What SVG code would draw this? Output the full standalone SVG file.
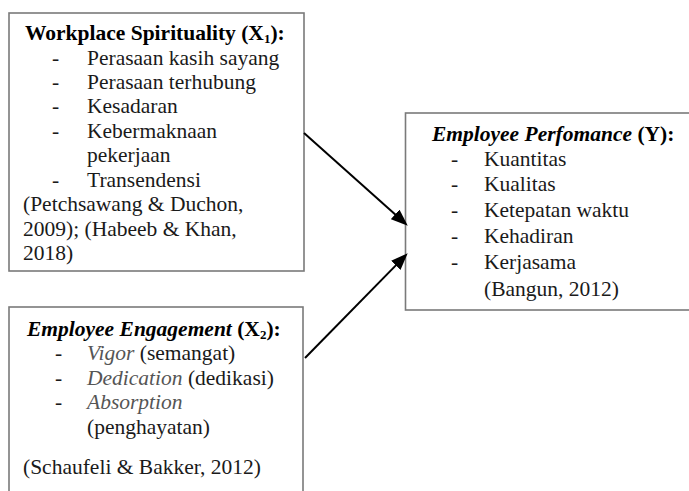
<svg xmlns="http://www.w3.org/2000/svg" width="689" height="491" viewBox="0 0 689 491">
<style>
.box{fill:#fff;stroke:#7a7a7a;stroke-width:1.6}
text{font-family:"Liberation Serif","Times New Roman",serif;font-size:21.5px;fill:#1a1a1a}
.b{font-weight:bold;fill:#000}
.bi{font-weight:bold;font-style:italic;fill:#000}
.i{font-style:italic;fill:#555}
.sub{font-size:13px}
.conn{stroke:#000;stroke-width:2;fill:none}
</style>
<defs>
<marker id="ah" markerUnits="userSpaceOnUse" markerWidth="17" markerHeight="13" refX="13" refY="6.5" orient="auto">
<path d="M0,0 L17,6.5 L0,13 z" fill="#000"/>
</marker>
</defs>
<rect width="689" height="491" fill="#fff"/>
<g id="node-x1">
<rect class="box" x="9" y="13" width="295" height="258"/>
<text x="25" y="40" class="b">Workplace Spirituality (X<tspan class="sub" dy="3">1</tspan><tspan dy="-3">):</tspan></text>
<text x="52" y="65">-</text><text x="87" y="65">Perasaan kasih sayang</text>
<text x="52" y="89">-</text><text x="87" y="89">Perasaan terhubung</text>
<text x="52" y="113">-</text><text x="87" y="113">Kesadaran</text>
<text x="52" y="138">-</text><text x="87" y="138">Kebermaknaan</text>
<text x="87" y="162">pekerjaan</text>
<text x="52" y="187">-</text><text x="87" y="187">Transendensi</text>
<text x="23" y="211">(Petchsawang &amp; Duchon,</text>
<text x="23" y="236">2009); (Habeeb &amp; Khan,</text>
<text x="23" y="260">2018)</text>
</g>
<g id="node-x2">
<rect class="box" x="9" y="307" width="294" height="200"/>
<text x="27" y="336"><tspan class="bi">Employee Engagement</tspan><tspan class="b"> (X</tspan><tspan class="b sub" dy="3">2</tspan><tspan class="b" dy="-3">):</tspan></text>
<text x="55" y="360">-</text><text x="87" y="360"><tspan class="i">Vigor</tspan> (semangat)</text>
<text x="55" y="385">-</text><text x="87" y="385"><tspan class="i">Dedication</tspan> (dedikasi)</text>
<text x="55" y="409">-</text><text x="87" y="409" class="i">Absorption</text>
<text x="87" y="434">(penghayatan)</text>
<text x="23" y="474">(Schaufeli &amp; Bakker, 2012)</text>
</g>
<g id="node-y">
<rect class="box" x="405.5" y="113" width="300" height="197"/>
<text x="432" y="141"><tspan class="bi">Employee Perfomance</tspan><tspan class="b"> (Y):</tspan></text>
<text x="451" y="166">-</text><text x="484" y="166">Kuantitas</text>
<text x="451" y="191">-</text><text x="484" y="191">Kualitas</text>
<text x="451" y="217">-</text><text x="484" y="217">Ketepatan waktu</text>
<text x="451" y="243">-</text><text x="484" y="243">Kehadiran</text>
<text x="451" y="269">-</text><text x="484" y="269">Kerjasama</text>
<text x="484" y="296">(Bangun, 2012)</text>
</g>
<g id="connectors">
<line class="conn" x1="304" y1="133" x2="404.8" y2="223" marker-end="url(#ah)"/>
<line class="conn" x1="305" y1="358" x2="404.9" y2="256.1" marker-end="url(#ah)"/>
</g>
</svg>
